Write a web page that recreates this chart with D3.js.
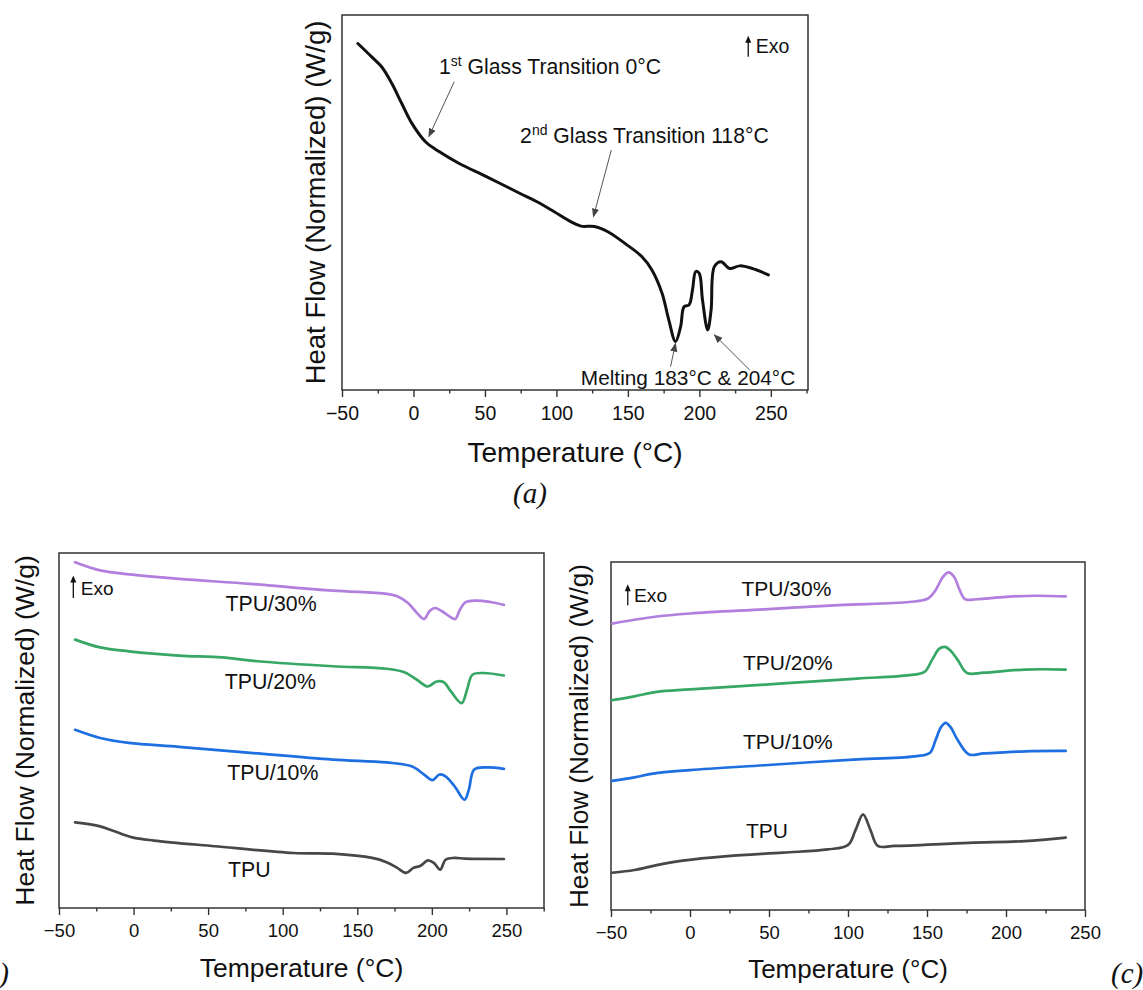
<!DOCTYPE html>
<html><head><meta charset="utf-8">
<script src="https://cdn.jsdelivr.net/npm/d3@7"></script>
<style>
html,body{margin:0;padding:0;background:#fff;}
svg{display:block;font-family:"Liberation Sans",Arial,sans-serif;}
</style></head>
<body><svg id="c" width="1143" height="990"></svg>
<script>
// ---------- DATA ----------
// Panel (a): neat polymer
const a_T  = [-38.9,-29.4,-22.3,-15.2,-8.2,-1.1,8.4,17.9,32,51,74.6,86.4,98.2,110,117.2,126.6,136,147.9,159.7,166.8,173.9,178.6,183.3,186.9,189.3,192.8,195.2,197.5,199.9,202.2,205.8,208.2,210.5,215.2,221.2,228.3,240.1,248.3];
const a_HF = [92.4,88.9,86.2,81.8,76.4,71.1,66.2,63.6,60.4,56.9,52.4,50.2,47.6,44.9,43.7,43.6,42.2,39.1,35.6,32,25.8,18.7,12.9,16.9,22.2,22.7,26.7,31.6,31.1,24,16,21.3,32.9,34.2,32.4,33.1,32,30.7];

// Panel (b): heating curves
const b30_T  = [-39.2,-22.4,-0.8,30.4,78.4,133.6,169.6,176.8,184,190,194.8,198.4,202,206.8,211.6,215.7,218.8,222.4,229.6,239.2,248.3];
const b30_HF = [97.4,95.1,93.9,92.7,91.3,89.4,88.5,87.8,85.9,83.1,81.4,83.6,84.5,83.6,82.2,81.4,84,86.1,86.6,86.2,85.4];
const b20_T  = [-39.2,-22.4,-3.2,30.4,59.2,83.2,133.6,169.6,181.6,190,197.2,203.2,208,212.8,220,223.6,227.2,234.4,248.3];
const b20_HF = [75.6,73.4,72.3,71.1,70.6,69.5,68.1,67.4,66.4,64.3,62.4,63.8,63.6,61,57.7,61.5,65.7,66.2,65.5];
const b10_T  = [-39.2,-22.4,-3.2,30.4,78.4,133.6,169.6,186.4,194.8,200.3,205.1,209.2,215.2,221.9,224.8,228.4,236.8,248.3];
const b10_HF = [50.2,47.9,46.5,45.4,43.7,41.8,41,39.9,37.6,36,37.6,37.1,34.3,30.5,33.3,39,39.6,39.2];
const b0_T   = [-39.2,-22.4,-12.8,-0.8,13.6,54.4,107.2,133.6,160,169.6,176.8,182.8,187.6,192.4,197.2,201.3,205.6,209.2,215.2,222.4,248.3];
const b0_HF  = [24.1,23,21.6,19.9,19,17.4,15.5,15.3,14.1,12.9,11.3,9.9,11.3,11.9,13.4,12.7,10.8,13.6,14.1,13.9,13.8];

// Panel (c): cooling curves
const c30_T  = [-49.3,-35.2,-23.4,0.1,47.2,94.2,138.9,150.7,155.4,160.1,163.6,167.2,170.7,174.2,181.3,200.1,218.9,237.8];
const c30_HF = [82.3,83.4,84.2,85.2,86.4,87.6,88.5,89.5,91.9,95.7,97,95.7,91.9,89.3,89.3,90,90.3,90.1];
const c20_T  = [-49.3,-35.2,-21.1,0.1,58.9,106,138.9,148.4,153.1,157.8,161.3,164.8,169.5,175.4,186,211.9,237.8];
const c20_HF = [60.3,61.4,62.7,63.4,65.1,66.5,67.5,68.4,71.8,75.1,75.6,74.6,71.8,68.1,68.2,69.1,69.1];
const c10_T  = [-49.3,-35.2,-23.4,0.1,47.2,106,143.6,151.9,155.4,158.9,161.8,164.8,169.5,176.6,186,211.9,237.8];
const c10_HF = [37.1,38.1,39.2,40.2,41.6,43.3,44.2,45.2,48.8,52.6,53.8,52.6,48.8,44.7,45,45.6,45.7];
const c0_T   = [-49.3,-35.2,-21.1,-4.6,23.6,58.9,87.2,100.1,104.8,109.5,114.2,118.9,129.5,176.6,211.9,237.8];
const c0_HF  = [10.7,11.5,12.9,14.2,15.5,16.5,17.4,18.7,23,27.5,23,18.4,18.4,19.3,19.8,20.8];

const seriesNames = ["TPU/30%","TPU/20%","TPU/10%","TPU"];
const seriesColors = ["#b27fdf","#36a765","#1e6fe0","#474747"];
const majorTicks_ab = [-50,0,50,100,150,200,250];
const minorTicks_ab = [-25,25,75,125,175,225,275];
const majorTicks_c = [-50,0,50,100,150,200,250];
const minorTicks_c = [-25,25,75,125,175,225];

const zip = (xs, ys) => xs.map((x, i) => [x, ys[i]]);

// ---------- DRAW ----------
const svg = d3.select("#c");
const defs = svg.append("defs");
defs.append("marker").attr("id","ah").attr("viewBox","0 0 10 10").attr("refX",9).attr("refY",5)
  .attr("markerWidth",9).attr("markerHeight",9).attr("markerUnits","userSpaceOnUse").attr("orient","auto")
  .append("path").attr("d","M0,1 L10,5 L0,9 Z").attr("fill","#444");

function panel(o) {
  const g = svg.append("g");
  const x = d3.scaleLinear().domain(o.xdom).range([o.L, o.R]);
  const y = d3.scaleLinear().domain([0, 100]).range([o.B, o.T]);
  // axis
  const ax = g.append("g").attr("transform", `translate(0,${o.B})`)
    .call(d3.axisBottom(x).tickValues(o.major).tickSize(7).tickPadding(o.pad).tickSizeOuter(0)
      .tickFormat(d => d < 0 ? "\u2212" + Math.abs(d) : d));
  ax.attr("font-size", o.tickFs).attr("font-family",'"Liberation Sans",Arial,sans-serif');
  ax.select(".domain").remove();
  ax.selectAll(".tick line").attr("stroke","#333").attr("stroke-width",1.4);
  ax.selectAll(".tick text").attr("font-size", o.tickFs).attr("fill","#111");
  const mx = g.append("g").attr("transform", `translate(0,${o.B})`)
    .call(d3.axisBottom(x).tickValues(o.minor).tickSize(3.5).tickFormat(""));
  mx.select(".domain").remove();
  mx.selectAll(".tick line").attr("stroke","#333").attr("stroke-width",1.4);
  // frame
  g.append("rect").attr("x", o.L).attr("y", o.T).attr("width", o.R - o.L).attr("height", o.B - o.T)
    .attr("fill","none").attr("stroke","#333").attr("stroke-width",1.5);
  // titles
  g.append("text").attr("x",(o.L+o.R)/2).attr("y",o.xtY).attr("text-anchor","middle")
    .attr("font-size",o.xtFs).attr("fill","#111").text("Temperature (°C)");
  g.append("text").attr("transform",`translate(${o.ytX},${(o.T+o.B)/2}) rotate(-90)`)
    .attr("text-anchor","middle").attr("dy","0.35em").attr("font-size",o.ytFs).attr("fill","#111")
    .text("Heat Flow (Normalized) (W/g)");
  // lines
  const line = d3.line().x(d => x(d[0])).y(d => y(d[1])).curve(d3.curveCatmullRom.alpha(0.5));
  o.series.forEach(s => {
    g.append("path").datum(s.data).attr("d", line).attr("fill","none")
      .attr("stroke", s.color).attr("stroke-width", o.lw).attr("stroke-linejoin","round").attr("stroke-linecap","round");
  });
  // labels
  (o.labels || []).forEach(l => {
    g.append("text").attr("x", x(l.x)).attr("y", y(l.y)).attr("font-size", o.labFs).attr("fill","#111").text(l.t);
  });
  // exo
  g.append("line").attr("x1", x(o.exo.ax)).attr("x2", x(o.exo.ax)).attr("y1", y(o.exo.y0)).attr("y2", y(o.exo.y1) + 5)
    .attr("stroke","#111").attr("stroke-width",1.3);
  g.append("path").attr("d", `M${x(o.exo.ax)-3},${y(o.exo.y1)+6} L${x(o.exo.ax)},${y(o.exo.y1)-1} L${x(o.exo.ax)+3},${y(o.exo.y1)+6} Z`).attr("fill","#111");
  g.append("text").attr("x", x(o.exo.tx)).attr("y", y(o.exo.ty)).attr("font-size", o.exoFs).attr("fill","#111").text("Exo");
  return {g, x, y};
}

// Panel (a)
const pa = panel({
  L:342, R:808, T:15, B:390, xdom:[-50,276], major:majorTicks_ab, minor:minorTicks_ab, pad:9,
  tickFs:19.5, xtFs:28, xtY:462, ytFs:27.5, ytX:315, lw:3, labFs:20,
  series:[{data:zip(a_T,a_HF), color:"#111"}],
  exo:{ax:234.2, y0:88.9, y1:94.2, tx:239.5, ty:90, },
  exoFs:19.5
});
// annotations for (a)
const annFs = 21.2;
const t1 = pa.g.append("text").attr("x", pa.x(17.9)).attr("y", pa.y(84.3)).attr("font-size", annFs).attr("fill","#111");
t1.append("tspan").text("1");
t1.append("tspan").attr("font-size", 14).attr("dy", -8).text("st");
t1.append("tspan").attr("dy", 8).text(" Glass Transition 0°C");
const t2 = pa.g.append("text").attr("x", pa.x(74.6)).attr("y", pa.y(65.8)).attr("font-size", annFs).attr("fill","#111");
t2.append("tspan").text("2");
t2.append("tspan").attr("font-size", 14).attr("dy", -8).text("nd");
t2.append("tspan").attr("dy", 8).text(" Glass Transition 118°C");
pa.g.append("text").attr("x", pa.x(117.1)).attr("y", pa.y(1.3)).attr("font-size", 20.8).attr("fill","#111")
  .text("Melting 183°C & 204°C");
const arrows = [
  [28.5,82.2,10.8,67.6],
  [138.4,64,125.9,46.2],
  [179.8,6.2,183.3,12.4],
  [235.3,5.3,210.5,14.7]
];
arrows.forEach(a => {
  pa.g.append("line").attr("x1", pa.x(a[0])).attr("y1", pa.y(a[1])).attr("x2", pa.x(a[2])).attr("y2", pa.y(a[3]))
    .attr("stroke","#555").attr("stroke-width",1).attr("marker-end","url(#ah)");
});

// Panel (b)
panel({
  L:59, R:544, T:553, B:908, xdom:[-50,275.2], major:majorTicks_ab, minor:minorTicks_ab, pad:8.5,
  tickFs:18.5, xtFs:26.5, xtY:977, ytFs:26.5, ytX:25, lw:2.7, labFs:21.3,
  series:[
    {data:zip(b30_T,b30_HF), color:seriesColors[0]},
    {data:zip(b20_T,b20_HF), color:seriesColors[1]},
    {data:zip(b10_T,b10_HF), color:seriesColors[2]},
    {data:zip(b0_T,b0_HF), color:seriesColors[3]}
  ],
  labels:[
    {t:seriesNames[0], x:61.6, y:83.8},
    {t:seriesNames[1], x:61.1, y:61.8},
    {t:seriesNames[2], x:62.8, y:36},
    {t:seriesNames[3], x:63.3, y:8.7}
  ],
  exo:{ax:-40.4, y0:87.3, y1:93.4, tx:-35.4, ty:88.3},
  exoFs:19
});

// Panel (c)
panel({
  L:611, R:1085, T:562, B:910, xdom:[-50,250], major:majorTicks_c, minor:minorTicks_c, pad:8.5,
  tickFs:18.5, xtFs:26, xtY:978, ytFs:26, ytX:579, lw:2.7, labFs:21,
  series:[
    {data:zip(c30_T,c30_HF), color:seriesColors[0]},
    {data:zip(c20_T,c20_HF), color:seriesColors[1]},
    {data:zip(c10_T,c10_HF), color:seriesColors[2]},
    {data:zip(c0_T,c0_HF), color:seriesColors[3]}
  ],
  labels:[
    {t:seriesNames[0], x:32.6, y:90.1},
    {t:seriesNames[1], x:33.5, y:68.9},
    {t:seriesNames[2], x:33.5, y:46.4},
    {t:seriesNames[3], x:35.4, y:20.6}
  ],
  exo:{ax:-39.4, y0:87.6, y1:93.3, tx:-35.4, ty:88.5},
  exoFs:19.2
});

// panel letters
const letterFont = '"Liberation Serif","Times New Roman",serif';
svg.append("text").attr("x",530).attr("y",503).attr("text-anchor","middle").attr("font-family",letterFont)
  .attr("font-style","italic").attr("font-size",29).attr("fill","#111").text("(a)");
svg.append("text").attr("x",9).attr("y",983).attr("text-anchor","end").attr("font-family",letterFont)
  .attr("font-style","italic").attr("font-size",29).attr("fill","#111").text("(b)");
svg.append("text").attr("x",1111).attr("y",983).attr("font-family",letterFont)
  .attr("font-style","italic").attr("font-size",29).attr("fill","#111").text("(c)");
</script></body></html>
